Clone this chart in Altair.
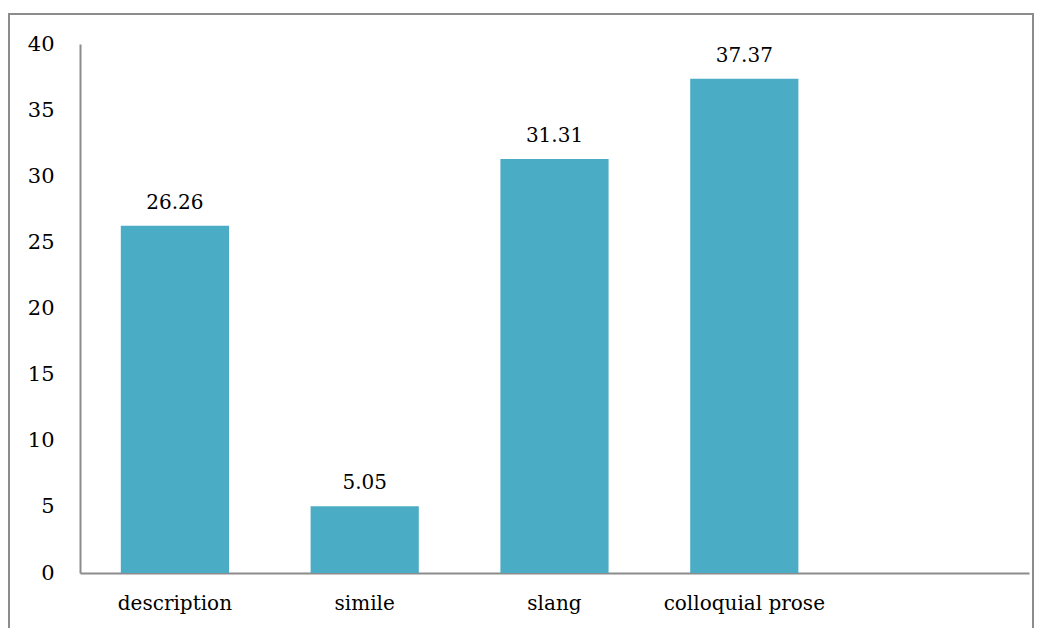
import altair as alt
import pandas as pd

# Share of each writing device (percent)
categories = ["description", "simile", "slang", "colloquial prose"]
values = [26.26, 5.05, 31.31, 37.37]
# an unused fifth slot keeps the empty space on the right of the axis
x_domain = categories + [" "]
y_ticks = [0, 5, 10, 15, 20, 25, 30, 35, 40]

df = pd.DataFrame({"category": categories, "value": values})
df["label"] = [f"{v:.2f}" for v in values]

FONT = "DejaVu Serif"
AXIS_GRAY = "#8c8c8c"
BAR_COLOR = "#4BACC6"

x_enc = alt.X(
    "category:N",
    sort=x_domain,
    scale=alt.Scale(domain=x_domain, paddingInner=0.43, paddingOuter=0.215),
    axis=alt.Axis(
        title=None, labelAngle=0, ticks=False, labelPadding=20,
        labelFont=FONT, labelFontSize=20, labelColor="#000000",
        domainColor=AXIS_GRAY, domainWidth=2,
    ),
)
y_enc = alt.Y(
    "value:Q",
    scale=alt.Scale(domain=[0, 40], nice=False),
    axis=alt.Axis(
        title=None, values=y_ticks, ticks=False, grid=False, labelPadding=26,
        labelFont=FONT, labelFontSize=21, labelColor="#000000",
        domainColor=AXIS_GRAY, domainWidth=2,
    ),
)

bars = alt.Chart(df).mark_bar(color=BAR_COLOR).encode(x=x_enc, y=y_enc)

labels = alt.Chart(df).mark_text(
    font=FONT, fontSize=20, color="#000000", baseline="bottom", dy=-13
).encode(x=alt.X("category:N", sort=x_domain), y="value:Q", text="label:N")

# outer frame around the whole figure
frame = alt.Chart(df).mark_rect(
    filled=False, stroke=AXIS_GRAY, strokeWidth=2, clip=False
).encode(
    x=alt.value(-71), x2=alt.value(953), y=alt.value(-30), y2=alt.value(640)
)

chart = (
    alt.layer(bars, labels, frame)
    .properties(
        width=949, height=529,
        autosize=alt.AutoSizeParams(type="none"),
        padding={"left": 80, "top": 44, "right": 14, "bottom": 55},
        background="#ffffff",
    )
    .configure_view(stroke=None)
)

chart.save("out.html", embed_options={"renderer": "svg", "actions": False})
